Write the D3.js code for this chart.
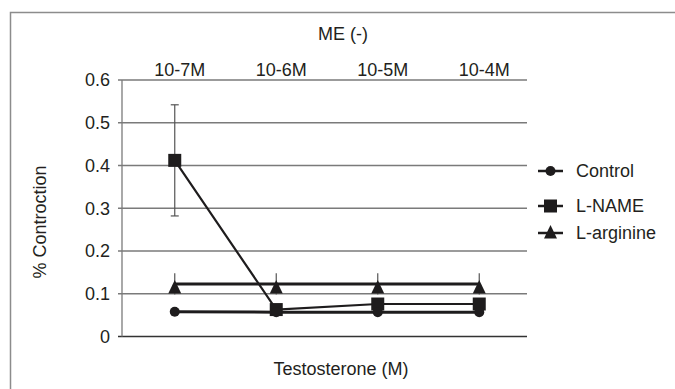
<!DOCTYPE html>
<html>
<head>
<meta charset="utf-8">
<script src="https://cdn.jsdelivr.net/npm/d3@7"></script>
<style>
	body { margin: 0; background: #fff; }
	text { font-family: "Liberation Sans", Arial, sans-serif; fill: #231f20; }
</style>
</head>
<body>
<svg id="chart" width="675" height="389"></svg>
<script>
'use strict';

// doses along the top axis
var categories = ['10-7M', '10-6M', '10-5M', '10-4M'];
var yTicks = [0, 0.1, 0.2, 0.3, 0.4, 0.5, 0.6];

// series values
var controlValues = [0.058, 0.057, 0.057, 0.057];
var lNameValues = [0.412, 0.063, 0.076, 0.076];
var lNameErrors = [0.13, 0, 0, 0];
var lArginineValues = [0.123, 0.123, 0.123, 0.123];
var lArginineErrors = [0.025, 0.025, 0.025, 0.025];

var series = [
	{ name : 'Control', values : controlValues, errors : null, marker : 'circle', width : 3 },
	{ name : 'L-NAME', values : lNameValues, errors : lNameErrors, marker : 'square', width : 2.2 },
	{ name : 'L-arginine', values : lArginineValues, errors : lArginineErrors, marker : 'triangle', width : 3 }
];

var svg = d3.select('#chart');
var ink = '#1e1c1d';

// outer frame (only top/left edges fall inside the picture)
svg.append('rect')
	.attr('x', 10.5).attr('y', 12.5)
	.attr('width', 720).attr('height', 420)
	.attr('fill', 'none')
	.attr('stroke', '#8c8c8c')
	.attr('stroke-width', 1.5);

var plot = { left : 122, right : 527, top : 80, bottom : 336.5 };

var x = d3.scaleBand().domain(categories).range([124, 530]);
var y = d3.scaleLinear().domain([0, 0.6]).range([plot.bottom, plot.top]);
var cx = function (c) { return x(c) + x.bandwidth() / 2; };

// gridlines + y ticks
var grid = svg.append('g').attr('class', 'grid');
grid.selectAll('line')
		.data(yTicks)
	.enter()
		.append('line')
		.attr('x1', plot.left - 4)
		.attr('x2', plot.right)
		.attr('y1', function (d) { return y(d); })
		.attr('y2', function (d) { return y(d); })
		.attr('stroke', function (d) { return d === 0 ? '#333' : '#7a7a7a'; })
		.attr('stroke-width', 1.3);

svg.append('line')
	.attr('x1', plot.left).attr('x2', plot.left)
	.attr('y1', plot.top).attr('y2', plot.bottom)
	.attr('stroke', '#7a7a7a')
	.attr('stroke-width', 1.3);

svg.append('g').selectAll('text')
		.data(yTicks)
	.enter()
		.append('text')
		.attr('x', 110)
		.attr('y', function (d) { return y(d); })
		.attr('dy', '0.36em')
		.attr('text-anchor', 'end')
		.style('font-size', '18px')
		.text(function (d) { return d === 0 ? '0' : d.toFixed(1); });

// top category labels
svg.append('g').selectAll('text')
		.data(categories)
	.enter()
		.append('text')
		.attr('x', function (d) { return cx(d) + 5; })
		.attr('y', 76)
		.attr('text-anchor', 'middle')
		.style('font-size', '18px')
		.text(function (d) { return d; });

svg.append('text')
	.attr('x', 343).attr('y', 40)
	.attr('text-anchor', 'middle')
	.style('font-size', '18px')
	.text('ME (-)');

svg.append('text')
	.attr('x', 341).attr('y', 375)
	.attr('text-anchor', 'middle')
	.style('font-size', '18px')
	.text('Testosterone (M)');

svg.append('text')
	.attr('transform', 'translate(46,222) rotate(-90)')
	.attr('text-anchor', 'middle')
	.style('font-size', '18px')
	.text('% Controction');

/**
 * Marker drawing helper, returns the appended element
 */
function drawMarker(g, type, px, py) {
	if(type === 'circle') {
		return g.append('circle').attr('cx', px).attr('cy', py).attr('r', 5).attr('fill', ink);
	}
	if(type === 'square') {
		return g.append('rect').attr('x', px - 6.5).attr('y', py - 6.5)
			.attr('width', 13).attr('height', 13).attr('fill', ink);
	}
	// triangle sits with its apex just above the point
	return g.append('path')
		.attr('d', 'M' + px + ',' + (py - 4) + 'L' + (px + 6.5) + ',' + (py + 9.5) + 'L' + (px - 6.5) + ',' + (py + 9.5) + 'Z')
		.attr('fill', ink);
}

var line = d3.line()
	.x(function (d) { return cx(d.cat); })
	.y(function (d) { return y(d.v); });

// draw back to front: arginine, L-NAME, control
series.slice().reverse().forEach(function (s) {
	var g = svg.append('g').attr('class', 'series');
	var pts = s.values.map(function (v, i) {
		return { cat : categories[i], v : v, e : s.errors ? s.errors[i] : 0 };
	});

	// error bars
	pts.forEach(function (p) {
		if(!p.e) {
			return;
		}
		var px = cx(p.cat);
		g.append('line')
			.attr('x1', px).attr('x2', px)
			.attr('y1', y(p.v + p.e)).attr('y2', y(p.v - p.e))
			.attr('stroke', '#555').attr('stroke-width', 1.2);
		if(s.marker === 'square') {
			[p.v + p.e, p.v - p.e].forEach(function (ev) {
				g.append('line')
					.attr('x1', px - 4).attr('x2', px + 4)
					.attr('y1', y(ev)).attr('y2', y(ev))
					.attr('stroke', '#555').attr('stroke-width', 1.2);
			});
		}
	});

	g.append('path')
		.datum(pts)
		.attr('d', line)
		.attr('fill', 'none')
		.attr('stroke', ink)
		.attr('stroke-width', s.width);

	pts.forEach(function (p) {
		drawMarker(g, s.marker, cx(p.cat), y(p.v));
	});
});

// legend
var legendY = [171, 206, 233];
var legend = svg.append('g').attr('class', 'legend');
series.forEach(function (s, i) {
	var ly = legendY[i];
	legend.append('line')
		.attr('x1', 538).attr('x2', 563)
		.attr('y1', ly).attr('y2', ly)
		.attr('stroke', ink).attr('stroke-width', 2.5);
	drawMarker(legend, s.marker, 550.5, s.marker === 'triangle' ? ly - 4 : ly);
	legend.append('text')
		.attr('x', 576)
		.attr('y', ly)
		.attr('dy', '0.36em')
		.style('font-size', '18px')
		.text(s.name);
});
</script>
</body>
</html>
